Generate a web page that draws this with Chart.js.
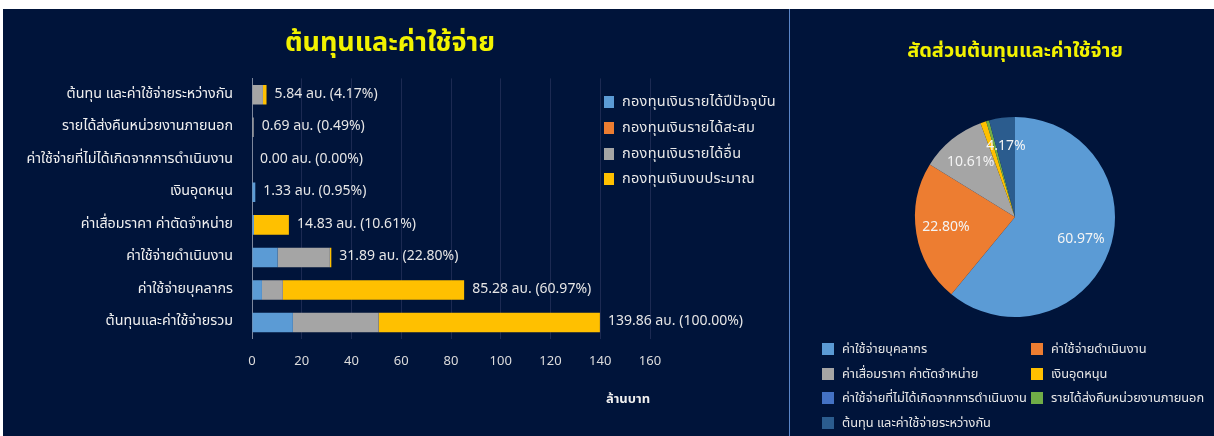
<!DOCTYPE html>
<html>
<head>
<meta charset="utf-8">
<script src="https://cdn.jsdelivr.net/npm/chart.js@4.4.1/dist/chart.umd.min.js"></script>
<style>
  body { margin: 0; background: #ffffff; width: 1214px; height: 436px; overflow: hidden; position: relative; font-family: 'Noto Sans Thai', Tahoma, 'Noto Sans', 'DejaVu Sans', sans-serif; }
  .panel { position: absolute; background: #00143a; }
  #leftPanel { left: 3px; top: 9px; width: 786px; height: 427px; }
  #rightPanel { left: 790px; top: 9px; width: 424px; height: 427px; }
  #divider { position: absolute; left: 789px; top: 9px; width: 1px; height: 427px; background: #5a86c8; }
  .legend { position: absolute; color: #e8e8e8; font-size: 13px; }
  .legend .item { position: absolute; white-space: nowrap; display: flex; align-items: center; }
  .legend .box { width: 10px; height: 12px; margin-right: 8px; }
</style>
</head>
<body>
<div class="panel" id="leftPanel"><canvas id="barChart"></canvas></div>
<div id="divider"></div>
<div class="panel" id="rightPanel"><canvas id="pieChart"></canvas></div>
<div class="legend" id="barLegend"></div>
<div class="legend" id="pieLegend"></div>
<script>
// categories, top to bottom as in the picture
const categories = [
    'ต้นทุน และค่าใช้จ่ายระหว่างกัน',
    'รายได้ส่งคืนหน่วยงานภายนอก',
    'ค่าใช้จ่ายที่ไม่ได้เกิดจากการดำเนินงาน',
    'เงินอุดหนุน',
    'ค่าเสื่อมราคา ค่าตัดจำหน่าย',
    'ค่าใช้จ่ายดำเนินงาน',
    'ค่าใช้จ่ายบุคลากร',
    'ต้นทุนและค่าใช้จ่ายรวม'
];
const fundNames = ['กองทุนเงินรายได้ปีปัจจุบัน', 'กองทุนเงินรายได้สะสม', 'กองทุนเงินรายได้อื่น', 'กองทุนเงินงบประมาณ'];
const currentFund = [0, 0, 0, 1.33, 0.8, 10.3, 4.0, 16.43];
const accumFund = [0, 0, 0, 0, 0, 0, 0, 0];
const otherFund = [4.4, 0.69, 0, 0, 0, 21.0, 8.4, 34.49];
const budgetFund = [1.44, 0, 0, 0, 14.03, 0.59, 72.88, 88.94];
const totals = [5.84, 0.69, 0.00, 1.33, 14.83, 31.89, 85.28, 139.86];
const percents = [4.17, 0.49, 0.00, 0.95, 10.61, 22.80, 60.97, 100.00];
const xTicks = [0, 20, 40, 60, 80, 100, 120, 140, 160];

const pieLabels = [
    'ค่าใช้จ่ายบุคลากร',
    'ค่าใช้จ่ายดำเนินงาน',
    'ค่าเสื่อมราคา ค่าตัดจำหน่าย',
    'เงินอุดหนุน',
    'ค่าใช้จ่ายที่ไม่ได้เกิดจากการดำเนินงาน',
    'รายได้ส่งคืนหน่วยงานภายนอก',
    'ต้นทุน และค่าใช้จ่ายระหว่างกัน'
];
const pieValues = [60.97, 22.80, 10.61, 0.95, 0.00, 0.49, 4.17];

const fundColors = ['#5b9bd5', '#ed7d31', '#a5a5a5', '#ffc000'];
const pieColors = ['#5b9bd5', '#ed7d31', '#a5a5a5', '#ffc000', '#4472c4', '#70ad47', '#2b5c8e'];
const FONT = "'Noto Sans Thai', Tahoma, 'Noto Sans', 'DejaVu Sans', sans-serif";

Chart.defaults.font.family = FONT;
Chart.defaults.color = '#e6e6e6';

// value labels at the end of each stacked bar
const barValueLabels = {
    id: 'barValueLabels',
    afterDatasetsDraw(chart) {
        const ctx = chart.ctx;
        const xs = chart.scales.x;
        const meta = chart.getDatasetMeta(chart.data.datasets.length - 1);
        ctx.save();
        ctx.font = '14px ' + FONT;
        ctx.fillStyle = '#e6e6e6';
        ctx.textAlign = 'left';
        ctx.textBaseline = 'middle';
        totals.forEach((t, i) => {
            const x = xs.getPixelForValue(t) + 8;
            const y = meta.data[i].y;
            ctx.fillText(t.toFixed(2) + ' ลบ. (' + percents[i].toFixed(2) + '%)', x, y);
        });
        ctx.restore();
    }
};

const barCtx = document.getElementById('barChart').getContext('2d');
const barChart = new Chart(barCtx, {
    type: 'bar',
    data: {
        labels: categories,
        datasets: [
            { label: fundNames[0], data: currentFund, backgroundColor: fundColors[0] },
            { label: fundNames[1], data: accumFund, backgroundColor: fundColors[1] },
            { label: fundNames[2], data: otherFund, backgroundColor: fundColors[2] },
            { label: fundNames[3], data: budgetFund, backgroundColor: fundColors[3] }
        ]
    },
    options: {
        indexAxis: 'y',
        responsive: true,
        maintainAspectRatio: false,
        animation: false,
        datasets: { bar: { categoryPercentage: 1, barPercentage: 0.6, borderWidth: 0 } },
        layout: { padding: { left: 0, right: 12, top: 0, bottom: 24 } },
        scales: {
            x: {
                stacked: true,
                min: 0,
                max: 160,
                afterBuildTicks: (scale) => { scale.ticks = xTicks.map(v => ({ value: v })); },
                ticks: { color: '#dcdcdc', font: { size: 13 }, padding: 16 },
                grid: { color: '#1c2a52', drawTicks: false },
                border: { display: false },
                title: {
                    display: true,
                    text: 'ล้านบาท',
                    align: 'end',
                    color: '#f0f0f0',
                    font: { size: 13, weight: 'bold' },
                    padding: { top: 6, bottom: 4 }
                }
            },
            y: {
                stacked: true,
                afterFit: (scale) => { scale.width = 249; },
                ticks: { color: '#f0f0f0', font: { size: 14.3 }, padding: 19 },
                grid: { display: false, drawTicks: false },
                border: { display: true, color: '#7d879c' }
            },
            // empty right axis: keeps room for the legend, title stays centred on the panel
            yRoom: {
                type: 'category',
                position: 'right',
                afterFit: (scale) => { scale.width = 127; },
                ticks: { display: false },
                grid: { display: false, drawTicks: false },
                border: { display: false }
            }
        },
        plugins: {
            legend: { display: false },
            tooltip: { enabled: false },
            title: {
                display: true,
                text: 'ต้นทุนและค่าใช้จ่าย',
                color: '#f2f200',
                font: { size: 27, weight: 'bold' },
                padding: { top: 20, bottom: 17 }
            }
        }
    },
    plugins: [barValueLabels]
});

// percentage labels inside the bigger slices
const pieValueLabels = {
    id: 'pieValueLabels',
    afterDatasetsDraw(chart) {
        const ctx = chart.ctx;
        const meta = chart.getDatasetMeta(0);
        ctx.save();
        ctx.font = '14px ' + FONT;
        ctx.fillStyle = '#f4f4f4';
        ctx.textAlign = 'center';
        ctx.textBaseline = 'middle';
        meta.data.forEach((arc, i) => {
            if (pieValues[i] < 2) return;
            const a = (arc.startAngle + arc.endAngle) / 2;
            const r = arc.outerRadius * 0.7;
            ctx.fillText(pieValues[i].toFixed(2) + '%', arc.x + Math.cos(a) * r, arc.y + Math.sin(a) * r);
        });
        ctx.restore();
    }
};

const pieCtx = document.getElementById('pieChart').getContext('2d');
const pieChart = new Chart(pieCtx, {
    type: 'pie',
    data: {
        labels: pieLabels,
        datasets: [{ data: pieValues, backgroundColor: pieColors, borderWidth: 0 }]
    },
    options: {
        responsive: true,
        maintainAspectRatio: false,
        animation: false,
        layout: { padding: { left: 26, right: 0, top: 0, bottom: 119 } },
        plugins: {
            legend: { display: false },
            tooltip: { enabled: false },
            title: {
                display: true,
                text: 'สัดส่วนต้นทุนและค่าใช้จ่าย',
                color: '#f2f200',
                font: { size: 20, weight: 'bold' },
                padding: { top: 32, bottom: 52 }
            }
        }
    },
    plugins: [pieValueLabels]
});

// html legends
const barLegend = document.getElementById('barLegend');
fundNames.forEach((name, i) => {
    const d = document.createElement('div');
    d.className = 'item';
    d.style.left = '604px';
    d.style.top = (91 + i * 25.8) + 'px';
    d.style.fontSize = '14.5px';
    d.style.letterSpacing = '0.3px';
    d.innerHTML = '<span class="box" style="background:' + fundColors[i] + '"></span>' + name;
    barLegend.appendChild(d);
});
const pieLegend = document.getElementById('pieLegend');
pieLabels.forEach((name, i) => {
    const d = document.createElement('div');
    d.className = 'item';
    d.style.left = (i % 2 === 0 ? 822 : 1031) + 'px';
    d.style.top = (339 + Math.floor(i / 2) * 24.5) + 'px';
    d.style.fontSize = '12.8px';
    d.innerHTML = '<span class="box" style="width:12px;height:12px;background:' + pieColors[i] + '"></span>' + name;
    pieLegend.appendChild(d);
});
</script>
</body>
</html>
